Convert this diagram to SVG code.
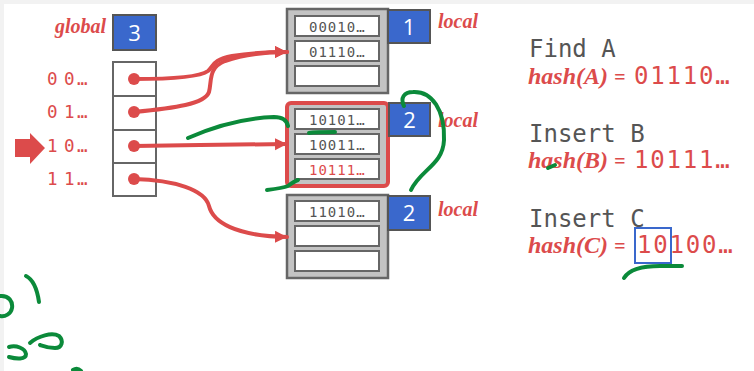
<svg xmlns="http://www.w3.org/2000/svg" width="754" height="371" viewBox="0 0 754 371">
<defs>
<style>
.bg{fill:#ffffff}
.strip{fill:#f2f2f2}
.red{fill:#dc4b4b}
.serif{font-family:"Liberation Serif","Times New Roman",serif;font-style:italic;font-weight:bold;fill:#dc4b4b}
.mono{font-family:"DejaVu Sans Mono","Liberation Mono",monospace}
.slot{fill:#ffffff;stroke:#666;stroke-width:2}
.bucket{fill:#c3c3c3;stroke:#666;stroke-width:2.5}
.depth{fill:#3a68cc;stroke:#555;stroke-width:2}
.depthtxt{font-family:"Open Sans","Liberation Sans",sans-serif;font-size:22px;fill:#fff;text-anchor:middle}
.slottxt{font-family:"DejaVu Sans Mono","Liberation Mono",monospace;font-size:14px;fill:#555;letter-spacing:1px}
.conn{fill:none;stroke:#dc4b4b;stroke-width:4;stroke-linecap:round}
.green{fill:none;stroke:#0b8a3a;stroke-width:4;stroke-linecap:round;stroke-linejoin:round}
.dot{fill:#dc4b4b}
.dirlbl{font-family:"DejaVu Sans Mono","Liberation Mono",monospace;font-size:17.5px;fill:#dc4b4b}
.op{font-family:"DejaVu Sans Mono","Liberation Mono",monospace;font-size:24px;fill:#555}
.hashnum{font-family:"DejaVu Sans Mono","Liberation Mono",monospace;font-size:24px;fill:#dc4b4b;letter-spacing:1.8px}
</style>
<marker id="ah" markerUnits="userSpaceOnUse" markerWidth="14" markerHeight="14" refX="12" refY="6" orient="auto">
<path d="M0,0 L12,6 L0,12 z" fill="#dc4b4b"/>
</marker>
</defs>
<rect class="bg" x="0" y="0" width="754" height="371"/>
<rect class="strip" x="0" y="0" width="754" height="4"/>
<rect class="strip" x="0" y="0" width="4" height="371"/>

<g id="global-depth">
<text class="serif" x="55" y="33" font-size="20">global</text>
<rect class="depth" x="113" y="15" width="43" height="35"/>
<text class="depthtxt" x="134.5" y="41">3</text>
</g>

<g id="directory">
<rect class="slot" x="113" y="62" width="43" height="134"/>
<line x1="113" y1="96" x2="156" y2="96" stroke="#666" stroke-width="2"/>
<line x1="113" y1="130" x2="156" y2="130" stroke="#666" stroke-width="2"/>
<line x1="113" y1="163" x2="156" y2="163" stroke="#666" stroke-width="2"/>
<circle class="dot" cx="134" cy="79" r="6"/>
<circle class="dot" cx="134" cy="112" r="6"/>
<circle class="dot" cx="134" cy="146" r="6"/>
<circle class="dot" cx="134" cy="179" r="6"/>
<text class="dirlbl" x="47 64 77" y="85">00…</text>
<text class="dirlbl" x="47 64 77" y="118">01…</text>
<text class="dirlbl" x="47 64 77" y="152">10…</text>
<text class="dirlbl" x="47 64 77" y="185">11…</text>
<path class="red" d="M15 139 L30 139 L30 133 L45 148 L30 164 L30 157 L15 157 z"/>
</g>

<g id="bucket1">
<rect class="bucket" x="287" y="9" width="101" height="84"/>
<rect class="slot" x="295" y="16" width="84" height="20"/>
<rect class="slot" x="295" y="41" width="84" height="20"/>
<rect class="slot" x="295" y="66" width="84" height="20"/>
<text class="slottxt" x="309" y="32">00010…</text>
<text class="slottxt" x="309" y="57">01110…</text>
<rect class="depth" x="388" y="10" width="42" height="33"/>
<text class="depthtxt" x="409" y="35">1</text>
<text class="serif" x="438" y="28" font-size="20">local</text>
</g>

<g id="bucket2">
<rect x="287" y="103" width="101" height="83" rx="4" fill="#c3c3c3" stroke="#dc4b4b" stroke-width="4"/>
<rect class="slot" x="295" y="109" width="84" height="20"/>
<rect class="slot" x="295" y="134" width="84" height="20"/>
<rect class="slot" x="295" y="159" width="84" height="20"/>
<text class="slottxt" x="309" y="125">10101…</text>
<text class="slottxt" x="309" y="150">10011…</text>
<text class="slottxt" x="309" y="175" style="fill:#dc4b4b">10111…</text>
<rect class="depth" x="389" y="103" width="41" height="33"/>
<text class="depthtxt" x="409.5" y="128">2</text>
<text class="serif" x="438" y="127" font-size="20">local</text>
</g>

<g id="bucket3">
<rect class="bucket" x="287" y="195" width="101" height="83"/>
<rect class="slot" x="295" y="201" width="84" height="20"/>
<rect class="slot" x="295" y="226" width="84" height="20"/>
<rect class="slot" x="295" y="251" width="84" height="20"/>
<text class="slottxt" x="309" y="217">11010…</text>
<rect class="depth" x="388" y="196" width="42" height="34"/>
<text class="depthtxt" x="409" y="221">2</text>
<text class="serif" x="438" y="216" font-size="20">local</text>
</g>

<g id="connectors">
<path class="conn" marker-end="url(#ah)" d="M134 79 C 170 79, 200 77, 208 71 C 214 66, 212 60, 232 56 C 250 53, 265 52, 287 52"/>
<path class="conn" marker-end="url(#ah)" d="M134 112 C 175 108, 205 104, 209 92 C 212 80, 208 68, 225 61 C 245 54, 265 52, 287 52"/>
<path class="conn" marker-end="url(#ah)" d="M134 146 L 200 145 L 287 144"/>
<path class="conn" marker-end="url(#ah)" d="M134 179 C 175 180, 205 190, 209 206 C 213 222, 235 236, 287 237"/>
</g>

<g id="operations">
<text class="op" x="529" y="57">Find A</text>
<text class="serif" x="528" y="84" font-size="24">hash(A)<tspan x="614" font-size="20">=</tspan></text>
<text class="hashnum" x="634" y="84">01110…</text>
<text class="op" x="529" y="142">Insert B</text>
<text class="serif" x="528" y="168" font-size="24">hash(B)<tspan x="614" font-size="20">=</tspan></text>
<text class="hashnum" x="634" y="168">10111…</text>
<text class="op" x="529" y="227">Insert C</text>
<text class="serif" x="528" y="253" font-size="24">hash(C)<tspan x="614" font-size="20">=</tspan></text>
<text class="hashnum" x="637" y="253">10100…</text>
<rect x="635" y="228" width="36" height="35" fill="none" stroke="#3a68cc" stroke-width="2"/>
</g>

<g id="annotations">
<path class="green" d="M188 138 C 215 126, 245 118, 274 117 C 283 117, 287 121, 288 126"/>
<path class="green" d="M309 133 C 315 132, 325 132, 335 132"/>
<path class="green" d="M267 190 C 275 189, 283 188, 288 186 C 292 183, 295 181, 298 180"/>
<path class="green" d="M404 106 C 400 98, 404 92, 413 92 C 432 91, 445 110, 444 140 C 443 165, 420 170, 411 190"/>
<path class="green" d="M548 168 L 555 165"/>
<path class="green" d="M624 278 C 630 268, 645 266, 660 266 L 682 266"/>
<path class="green" d="M0 296 C 9 295, 13 302, 12 308 C 11 314, 5 317, 0 316"/>
<path class="green" d="M26 276 C 32 279, 37 288, 39 302"/>
<path class="green" d="M9 347 C 16 345, 25 348, 26 354 C 26 360, 16 359, 9 357"/>
<path class="green" d="M30 343 C 38 336, 52 332, 59 336 C 64 341, 62 348, 55 348 C 48 348, 43 346, 40 345"/>
<path class="green" d="M73 370 C 76 368, 79 369, 81 371"/>
</g>
</svg>
